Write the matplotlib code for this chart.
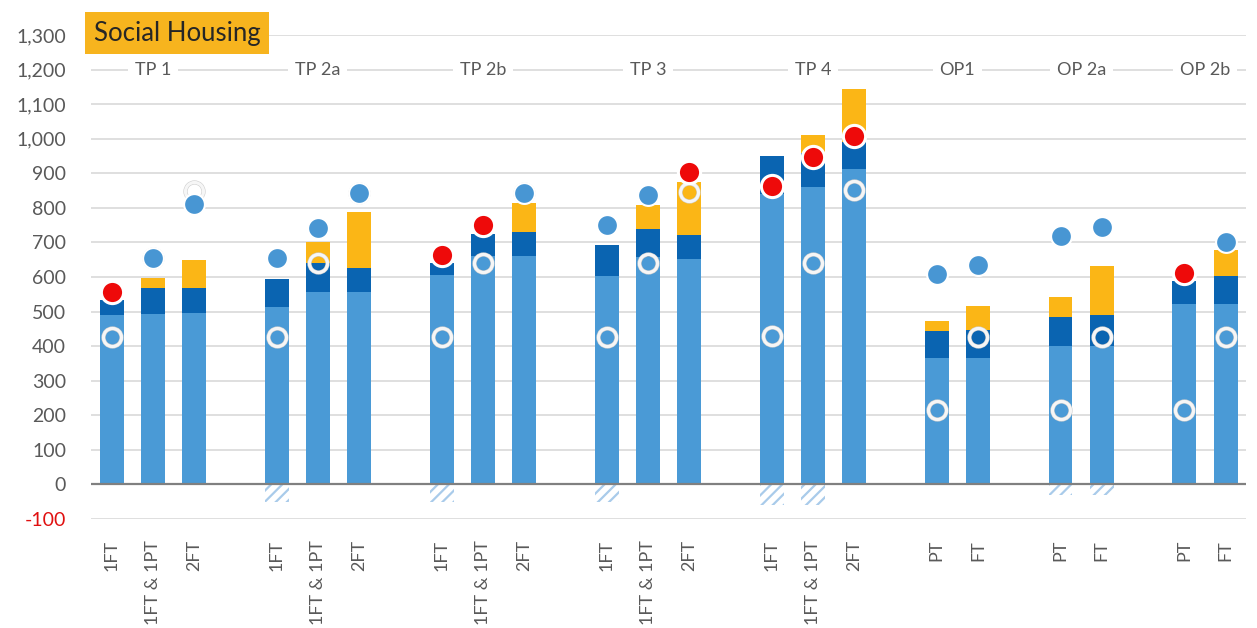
import matplotlib
matplotlib.use("Agg")
import matplotlib.pyplot as plt
import numpy as np

plt.rcParams["font.family"] = ["Lato", "DejaVu Sans"]
plt.rcParams["hatch.linewidth"] = 1.6

# groups and the bar categories inside each group
groups = ["TP 1", "TP 2a", "TP 2b", "TP 3", "TP 4", "OP1", "OP 2a", "OP 2b"]
group_cats = [
    ["1FT", "1FT & 1PT", "2FT"],
    ["1FT", "1FT & 1PT", "2FT"],
    ["1FT", "1FT & 1PT", "2FT"],
    ["1FT", "1FT & 1PT", "2FT"],
    ["1FT", "1FT & 1PT", "2FT"],
    ["PT", "FT"],
    ["PT", "FT"],
    ["PT", "FT"],
]

# stacked segments, one value per bar (in group order)
base = [490, 493, 495, 512, 557, 557, 606, 660, 662, 604, 659, 651,
        840, 860, 912, 367, 367, 400, 400, 522, 522]
dark = [43, 74, 72, 81, 83, 68, 34, 64, 68, 89, 79, 69,
        111, 100, 78, 76, 79, 85, 90, 67, 81]
yellow = [0, 29, 82, 0, 60, 164, 0, 0, 83, 0, 71, 156,
          0, 50, 154, 29, 70, 58, 142, 0, 75]
negative = [0, 0, 0, -50, 0, 0, -50, 0, 0, -50, 0, 0,
            -60, -60, 0, 0, 0, -30, -30, 0, 0]

nan = np.nan
blue_dots = [nan, 654, 811, 654, 741, 843, nan, nan, 843, 751, 838, nan,
             nan, nan, nan, 609, 635, 719, 745, nan, 701]
red_dots = [557, nan, nan, nan, nan, nan, 664, 751, nan, nan, nan, 905,
            862, 947, 1007, nan, nan, nan, nan, 612, nan]
rings = [425, 654, 850, 425, 640, 843, 425, 640, 843, 425, 640, 847,
         429, 641, 852, 216, 425, 216, 425, 216, 425]

y_ticks = list(range(-100, 1301, 100))

LIGHT = "#4a9ad6"
DARK = "#0a64b1"
YELLOW = "#fbb616"
RED = "#ee0a0a"
DOT = "#4896d3"
GREY = "#595959"


def slot_positions() -> tuple[list[float], list[float]]:
    xs, centers = [], []
    pos = 0
    for cats in group_cats:
        start = pos
        for _ in cats:
            xs.append(pos)
            pos += 1
        centers.append((start + pos - 1) / 2)
        pos += 1  # one empty slot between groups
    return xs, centers


def main() -> None:
    xs, centers = slot_positions()
    labels = [c for cats in group_cats for c in cats]

    fig = plt.figure(figsize=(12.57, 6.28), dpi=100)
    ax = fig.add_axes([0.0724, 0.1736, 0.919, 0.7707])

    b = np.array(base, dtype=float)
    d = np.array(dark, dtype=float)
    w = 0.58
    ax.bar(xs, b, width=w, color=LIGHT, zorder=2)
    ax.bar(xs, d, width=w, bottom=b, color=DARK, zorder=2)
    ax.bar(xs, yellow, width=w, bottom=b + d, color=YELLOW, zorder=2)
    ax.bar(xs, negative, width=w, color="none", edgecolor="#a9cbea",
           hatch="///", linewidth=0, zorder=2)

    # faint outline so the rings still show up against the white background
    ax.plot(xs, rings, ls="none", marker="o", ms=13, mfc="none",
            mec="#cfcfcf", mew=3.0, zorder=3, clip_on=False)
    ax.plot(xs, rings, ls="none", marker="o", ms=13, mfc="none",
            mec="#f6f6f6", mew=2.2, zorder=3, clip_on=False)
    ax.plot(xs, blue_dots, ls="none", marker="o", ms=15, mfc=DOT,
            mec="white", mew=1.5, zorder=4, clip_on=False)
    ax.plot(xs, red_dots, ls="none", marker="o", ms=16, mfc=RED,
            mec="white", mew=2.2, zorder=5, clip_on=False)

    ax.set_xlim(-0.5, 27.5)
    ax.set_ylim(-100, 1300)
    ax.set_yticks(y_ticks)
    ax.set_yticklabels([f"{v:,}" for v in y_ticks], fontsize=14, color=GREY)
    ax.get_yticklabels()[0].set_color("#e01010")

    ax.set_xticks(xs)
    ax.set_xticklabels(labels, rotation=90, fontsize=13, color=GREY, va="top")
    ax.tick_params(length=0)
    ax.tick_params(axis="x", pad=15)
    ax.tick_params(axis="y", pad=18)

    for s in ax.spines.values():
        s.set_visible(False)
    for v in y_ticks:
        if v == 0:
            continue
        ax.axhline(v, color="#dcdcdc", lw=1.3, zorder=0)
    ax.axhline(0, color="#808080", lw=1.6, zorder=3)

    for name, cx in zip(groups, centers):
        ax.text(cx, 1200, name, ha="center", va="center", fontsize=13,
                color=GREY, zorder=1,
                bbox=dict(facecolor="white", edgecolor="none", pad=5))

    fig.text(0.0745, 0.947, "Social Housing", ha="left", va="center",
             fontsize=18.5, color="#262626",
             bbox=dict(facecolor="#f7b41e", edgecolor="none",
                       boxstyle="square,pad=0.33"))

    fig.savefig("out.png", dpi=100, facecolor="white")
    plt.close(fig)


if __name__ == "__main__":
    main()
